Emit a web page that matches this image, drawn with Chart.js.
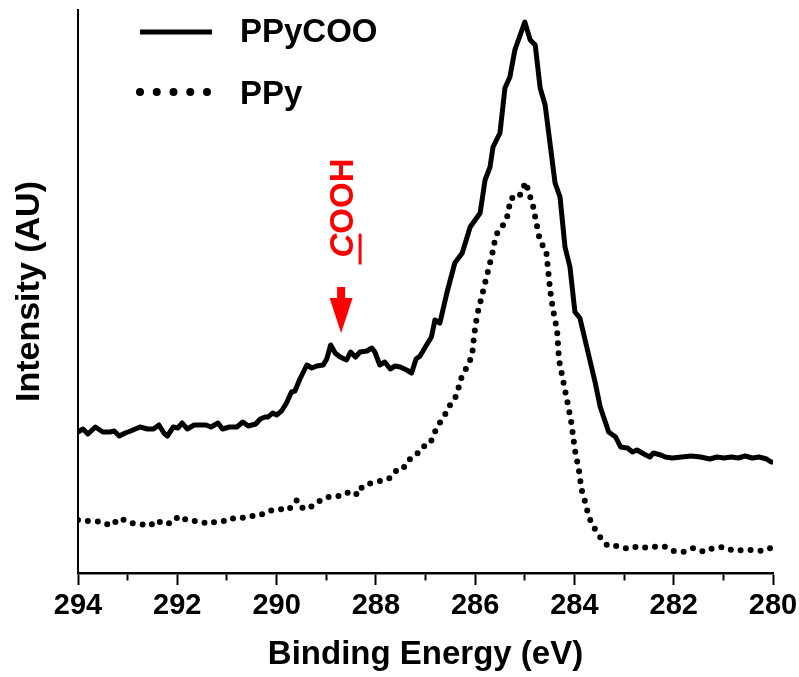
<!DOCTYPE html>
<html>
<head>
<meta charset="utf-8">
<script src="https://cdn.jsdelivr.net/npm/chart.js@4.4.1/dist/chart.umd.min.js"></script>
<style>
  body { margin: 0; background: #fff; }
</style>
</head>
<body>
<canvas id="xps-chart" width="799" height="677"></canvas>
<script>
// C1s spectra (binding energy in eV, intensity in arbitrary units)
let ppyCooEnergy = [294.0, 293.9, 293.8, 293.65, 293.5, 293.36, 293.27, 293.17, 293.05, 292.94,
    292.75, 292.6, 292.48, 292.37, 292.27, 292.2, 292.08, 291.99, 291.9, 291.8,
    291.66, 291.42, 291.32, 291.18, 291.09, 290.95, 290.8, 290.68, 290.57, 290.42,
    290.33, 290.23, 290.17, 290.08, 290.0, 289.9, 289.8, 289.7, 289.63, 289.53,
    289.39, 289.29, 289.19, 289.06, 288.99, 288.91, 288.82, 288.72, 288.59, 288.51,
    288.41, 288.32, 288.18, 288.08, 288.02, 287.92, 287.82, 287.71, 287.61, 287.51,
    287.38, 287.28, 287.19, 287.11, 286.98, 286.88, 286.81, 286.71, 286.57, 286.41,
    286.26, 286.1, 285.9, 285.8, 285.7, 285.64, 285.5, 285.4, 285.3, 285.2,
    285.0, 284.89, 284.79, 284.69, 284.59, 284.39, 284.29, 284.19, 284.09, 283.99,
    283.89, 283.58, 283.48, 283.31, 283.17, 283.07, 282.93, 282.83, 282.74, 282.6,
    282.48, 282.41, 282.26, 282.17, 282.03, 281.84, 281.65, 281.46, 281.27, 281.13,
    280.99, 280.84, 280.7, 280.56, 280.42, 280.28, 280.13, 280.04, 280.0]
let ppyCooIntensity = [141, 144, 139, 146, 141, 141, 142, 137, 140, 142,
    146, 144, 144, 148, 140, 137, 146, 145, 150, 144,
    148, 148, 146, 150, 144, 146, 146, 151, 147, 149,
    154, 156, 156, 160, 158, 162, 170, 181, 182, 194,
    208, 205, 207, 208, 214, 228, 220, 216, 213, 221,
    216, 221, 222, 225, 221, 208, 211, 204, 207, 206,
    203, 200, 214, 217, 228, 236, 253, 250, 280, 310,
    320, 346, 360, 393, 406, 426, 440, 485, 496, 523,
    551, 533, 528, 485, 468, 390, 376, 326, 306, 261,
    255, 190, 166, 141, 136, 126, 125, 121, 123, 119,
    116, 120, 118, 116, 115, 116, 117, 116, 114, 116,
    115, 116, 115, 117, 115, 116, 114, 111, 111]

let ppyEnergy = [294.0, 293.93, 293.7, 293.5, 293.35, 293.15, 292.96, 292.75, 292.56, 292.4,
    292.3, 292.1, 291.97, 291.77, 291.56, 291.37, 291.18, 291.06, 290.95, 290.76,
    290.57, 290.36, 290.17, 289.97, 289.76, 289.59, 289.46, 289.26, 289.08, 288.89,
    288.69, 288.5, 288.36, 288.27, 288.08, 287.91, 287.74, 287.6, 287.46, 287.37,
    287.2, 287.07, 286.91, 286.77, 286.63, 286.53, 286.37, 286.32, 286.26, 286.14,
    286.06, 286.02, 285.96, 285.86, 285.76, 285.66, 285.58, 285.46, 285.36, 285.28,
    285.12, 285.04, 284.97, 284.93, 284.85, 284.77, 284.69, 284.57, 284.53, 284.49,
    284.43, 284.35, 284.31, 284.23, 284.15, 284.07, 283.99, 283.91, 283.86, 283.8,
    283.75, 283.7, 283.6, 283.47, 283.33, 283.12, 282.91, 282.71, 282.52, 282.31,
    282.14, 282.0, 281.81, 281.6, 281.39, 281.2, 281.0, 280.79, 280.6, 280.39,
    280.2, 280.04, 280.0]
let ppyIntensity = [53, 52, 52, 51, 47, 55, 50, 49, 47, 53,
    49, 50, 57, 52, 52, 49, 52, 52, 55, 54,
    57, 57, 62, 64, 63, 73, 64, 67, 74, 77,
    77, 82, 78, 87, 90, 92, 94, 102, 103, 112,
    117, 126, 129, 146, 156, 166, 178, 188, 198, 208,
    218, 238, 258, 278, 298, 318, 338, 346, 355, 375,
    375, 385, 391, 381, 371, 351, 331, 323, 303, 283,
    263, 243, 213, 193, 173, 153, 123, 103, 84, 74,
    64, 55, 45, 35, 27, 27, 24, 27, 25, 27,
    26, 22, 21, 25, 21, 25, 26, 22, 23, 23,
    22, 25, 24]

let seriesNames = ['PPyCOO', 'PPy']
let energyRange = [280, 294]
let intensityRange = [0, 563]

// the red COOH marker
let coohLabel = 'COOH'
let coohEnergy = 288.7
let coohLabelIntensity = 365
let arrowTopIntensity = 286
let arrowHeadIntensity = 275
let arrowTipIntensity = 240

let fontFamily = '"Liberation Sans", Arial, Helvetica, sans-serif'

function toPoints(xs, ys) {
    return xs.map(function(x, i) { return { x: x, y: ys[i] } })
}

// Legend and arrow are drawn on top of the chart area
let decorPlugin = {
    id: 'decor',
    afterDraw: function(chart) {
        let ctx = chart.ctx
        let xScale = chart.scales.x
        let yScale = chart.scales.y
        ctx.save()

        // legend, solid then dotted
        ctx.strokeStyle = '#000'
        ctx.lineWidth = 5
        ctx.beginPath()
        ctx.moveTo(140, 32)
        ctx.lineTo(212, 32)
        ctx.stroke()

        ctx.lineWidth = 8
        ctx.lineCap = 'round'
        ctx.setLineDash([0, 16.75])
        ctx.beginPath()
        ctx.moveTo(140, 92)
        ctx.lineTo(208, 92)
        ctx.stroke()
        ctx.setLineDash([])

        ctx.fillStyle = '#000'
        ctx.font = 'bold 33px ' + fontFamily
        ctx.textBaseline = 'middle'
        ctx.textAlign = 'left'
        ctx.fillText(seriesNames[0], 240, 33)
        ctx.fillText(seriesNames[1], 240, 95)

        // COOH label, rotated
        let ax = xScale.getPixelForValue(coohEnergy)
        let ly = yScale.getPixelForValue(coohLabelIntensity)
        ctx.fillStyle = '#ff0000'
        ctx.strokeStyle = '#ff0000'
        ctx.translate(ax, ly)
        ctx.rotate(-Math.PI / 2)
        ctx.font = 'bold 33px ' + fontFamily
        let cWidth = ctx.measureText(coohLabel[0]).width
        let fullWidth = ctx.measureText(coohLabel).width
        let startX = -fullWidth / 2
        ctx.textAlign = 'left'
        ctx.textBaseline = 'alphabetic'
        ctx.font = 'italic bold 33px ' + fontFamily
        ctx.fillText(coohLabel[0], startX, 12)
        ctx.font = 'bold 33px ' + fontFamily
        ctx.fillText(coohLabel.slice(1), startX + cWidth, 12)
        ctx.lineWidth = 3
        ctx.lineCap = 'butt'
        ctx.beginPath()
        ctx.moveTo(startX - 7, 19)
        ctx.lineTo(startX + cWidth, 19)
        ctx.stroke()
        ctx.setTransform(1, 0, 0, 1, 0, 0)

        // arrow
        let yTop = yScale.getPixelForValue(arrowTopIntensity)
        let yHead = yScale.getPixelForValue(arrowHeadIntensity)
        let yTip = yScale.getPixelForValue(arrowTipIntensity)
        ctx.fillRect(ax - 4, yTop, 8, yHead - yTop + 1)
        ctx.beginPath()
        ctx.moveTo(ax - 11.5, yHead)
        ctx.lineTo(ax + 11.5, yHead)
        ctx.lineTo(ax, yTip)
        ctx.closePath()
        ctx.fill()

        ctx.restore()
    }
}

let canvas = document.querySelector('#xps-chart')
let context = canvas.getContext('2d')

let xpsChart = new Chart(context, {
    type: 'line',
    data: {
        datasets: [
            {
                label: seriesNames[0],
                data: toPoints(ppyCooEnergy, ppyCooIntensity),
                borderColor: '#000',
                borderWidth: 5,
                borderJoinStyle: 'round',
                pointRadius: 0,
                tension: 0
            },
            {
                label: seriesNames[1],
                data: toPoints(ppyEnergy, ppyIntensity),
                borderColor: '#000',
                borderWidth: 6,
                borderDash: [0, 10],
                borderCapStyle: 'round',
                pointRadius: 0,
                tension: 0
            }
        ]
    },
    options: {
        responsive: false,
        animation: false,
        devicePixelRatio: 1,
        layout: { padding: { top: 10, right: 26, left: 0, bottom: 0 } },
        plugins: {
            legend: { display: false },
            tooltip: { enabled: false }
        },
        scales: {
            x: {
                type: 'linear',
                reverse: true,
                min: energyRange[0],
                max: energyRange[1],
                afterFit: function(scale) {
                    scale.height = 104
                    scale.paddingLeft = 0
                    scale.paddingRight = 0
                },
                border: { display: true, color: '#000', width: 2.5 },
                grid: {
                    drawOnChartArea: false,
                    tickLength: 12,
                    tickWidth: 2,
                    tickColor: '#000',
                    tickBorderDash: function(c) { return c.tick && c.tick.value % 2 ? [6, 30] : [] }
                },
                ticks: {
                    stepSize: 1,
                    autoSkip: false,
                    maxRotation: 0,
                    padding: 4,
                    color: '#000',
                    font: { family: fontFamily, weight: 'bold', size: 29 },
                    callback: function(value) { return value % 2 === 0 ? value : '' }
                },
                title: {
                    display: true,
                    text: 'Binding Energy (eV)',
                    color: '#000',
                    font: { family: fontFamily, weight: 'bold', size: 33 },
                    padding: { top: 0, bottom: 2 }
                }
            },
            y: {
                min: intensityRange[0],
                max: intensityRange[1],
                afterFit: function(scale) { scale.width = 78 },
                border: { display: true, color: '#000', width: 2 },
                grid: { display: false },
                ticks: { display: false },
                title: {
                    display: true,
                    text: 'Intensity (AU)',
                    color: '#000',
                    font: { family: fontFamily, weight: 'bold', size: 34 },
                    padding: { top: 9, bottom: 0 }
                }
            }
        }
    },
    plugins: [decorPlugin]
})
</script>
</body>
</html>
